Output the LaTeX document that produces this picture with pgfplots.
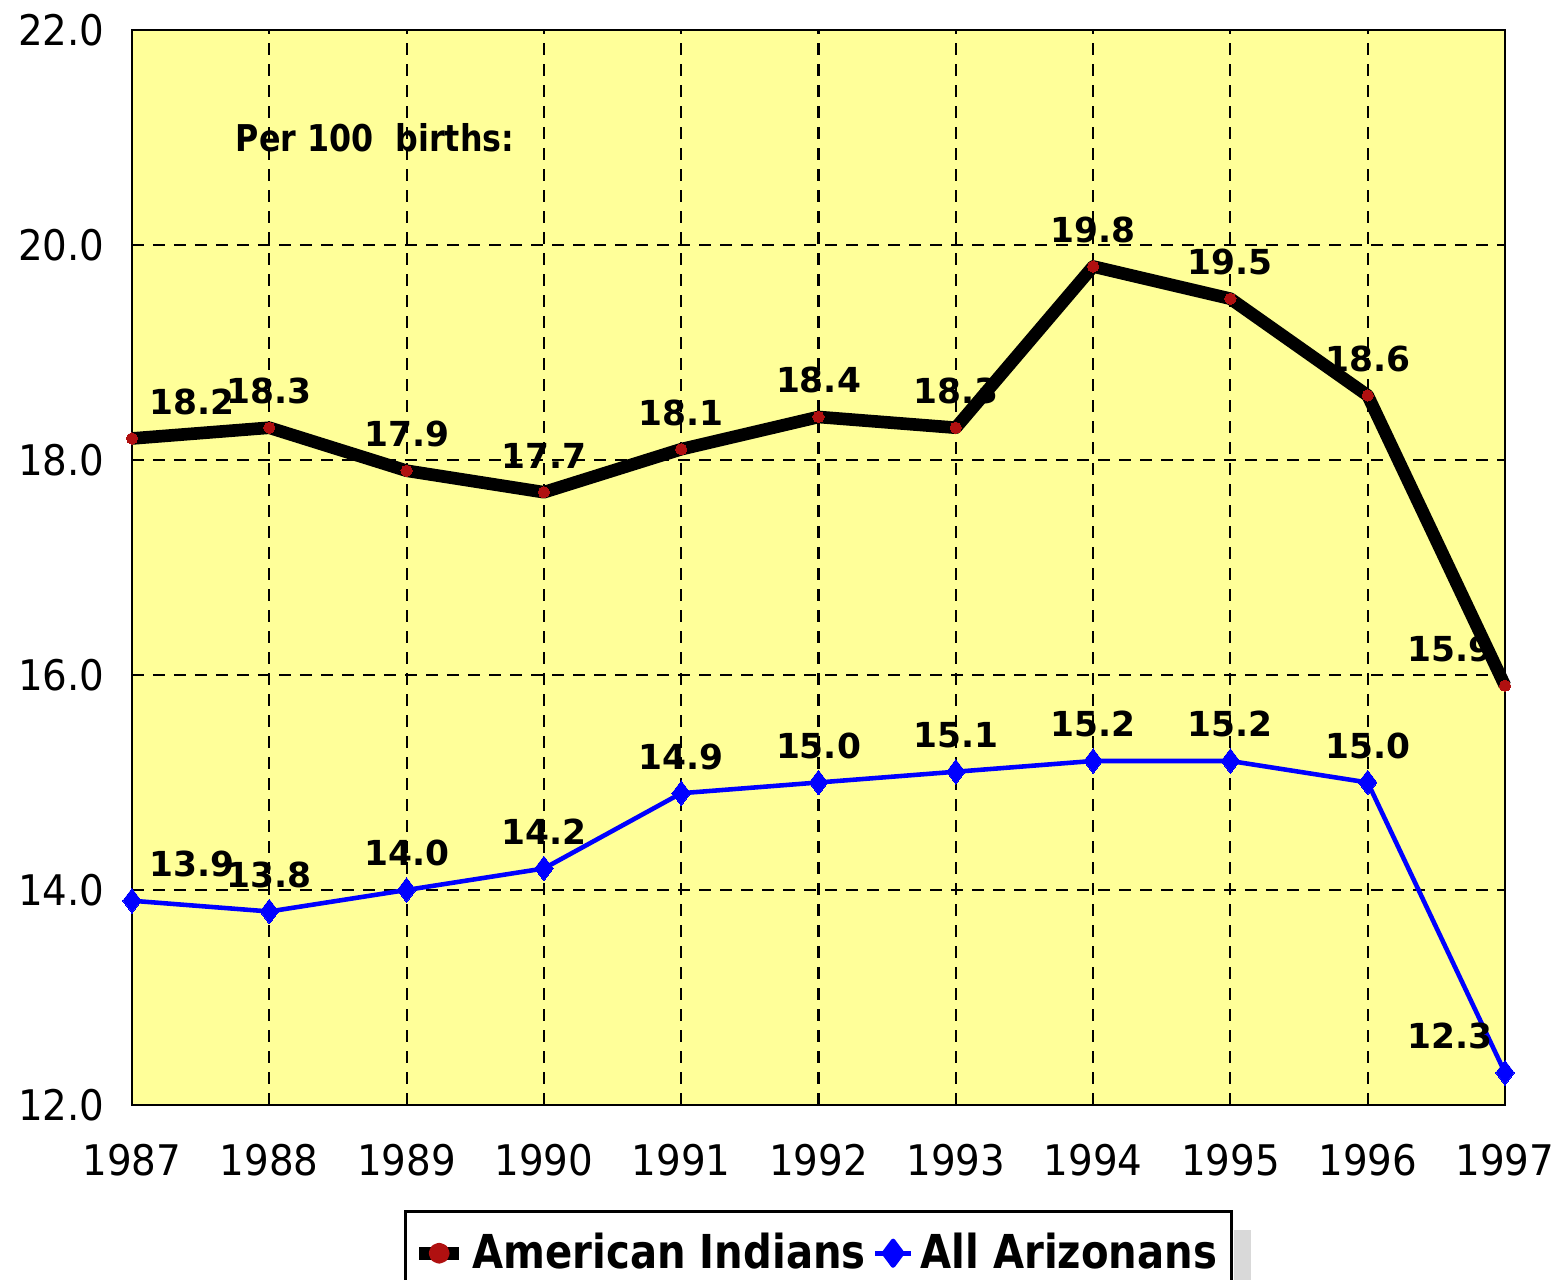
\documentclass[border=0pt]{standalone}
\usepackage{fontspec}
\setmainfont{DejaVu Sans}
\newfontfamily\tickfont[FakeStretch=0.92]{DejaVu Sans}
\newfontfamily\legfont[FakeStretch=0.86]{DejaVu Sans}
\usepackage{pgfplots}
\pgfplotsset{compat=1.18}

\definecolor{bgyellow}{HTML}{FFFF99}
\definecolor{reddot}{HTML}{B01010}

\begin{document}
\begin{tikzpicture}
\begin{axis}[
    scale only axis,
    width=13.73cm, height=10.75cm,
    xmin=1987, xmax=1997,
    ymin=12, ymax=22,
    xtick={1987,1988,...,1997},
    ytick={12,14,...,22},
    grid=major,
    major grid style={black, line width=0.6pt, dash pattern=on 1.2mm off 0.9mm},
    axis background/.style={fill=bgyellow},
    axis line style={black, line width=0.8pt},
    tick style={draw=none},
    clip=false,
    /pgf/number format/assume math mode=true,
    x tick label style={font=\tickfont\fontsize{12}{14}\selectfont,
        /pgf/number format/1000 sep={}, yshift=-2.7mm},
    y tick label style={font=\tickfont\fontsize{12}{14}\selectfont, xshift=-1.5mm,
        /pgf/number format/fixed, /pgf/number format/fixed zerofill,
        /pgf/number format/precision=1},
    legend style={at={(0.5,-0.098)}, anchor=north, legend columns=-1,
        name=mylegend,
        draw=black, line width=0.8pt, fill=white,
        font=\legfont\bfseries\fontsize{13.3}{16}\selectfont,
        inner xsep=2pt, inner ysep=4pt,
        /tikz/every even column/.append style={column sep=0pt}},
    legend cell align=left,
    nodes near coords style={black, font=\bfseries\fontsize{9.8}{12}\selectfont,
        /pgf/number format/fixed, /pgf/number format/fixed zerofill,
        /pgf/number format/precision=1},
]

% value labels, drawn first so the lines pass over them
\addplot[forget plot, draw=none, mark=none, nodes near coords, point meta=y,
    every node near coord/.append style={anchor=south, inner sep=0pt, yshift=6.5pt}]
    coordinates {(1988,18.3) (1989,17.9) (1990,17.7) (1991,18.1) (1992,18.4)
                 (1993,18.3) (1994,19.8) (1995,19.5) (1996,18.6)};
\addplot[forget plot, draw=none, mark=none, nodes near coords, point meta=y,
    every node near coord/.append style={anchor=south, inner sep=0pt, yshift=6.5pt}]
    coordinates {(1988,13.8) (1989,14.0) (1990,14.2) (1991,14.9) (1992,15.0)
                 (1993,15.1) (1994,15.2) (1995,15.2) (1996,15.0)};
\addplot[forget plot, draw=none, mark=none, nodes near coords, point meta=y,
    every node near coord/.append style={anchor=south, inner sep=0pt, yshift=6.5pt, xshift=6mm}]
    coordinates {(1987,18.2) (1987,13.9)};
\addplot[forget plot, draw=none, mark=none, nodes near coords, point meta=y,
    every node near coord/.append style={anchor=south, inner sep=0pt, yshift=6.5pt, xshift=-5.5mm}]
    coordinates {(1997,15.9) (1997,12.3)};

% American Indians
\addplot[black, line width=3.6pt, line join=round, mark=*, mark size=1.6pt,
    mark options={fill=reddot, draw=reddot, line width=0pt},
    legend image code/.code={
        \draw[black, line width=3.6pt, mark=none] (0cm,0cm) -- (0.4cm,0cm);
        \fill[reddot] (0.2cm,0cm) circle (1.15pt);}]
    coordinates {(1987,18.2) (1988,18.3) (1989,17.9) (1990,17.7) (1991,18.1)
                 (1992,18.4) (1993,18.3) (1994,19.8) (1995,19.5) (1996,18.6)
                 (1997,15.9)};
\addlegendentry{American Indians}

% All Arizonans
\addplot[blue, line width=1.3pt, line join=round, mark=diamond*, mark size=3.5pt,
    mark options={fill=blue, draw=blue, line width=0pt},
    legend image code/.code={
        \draw[blue, line width=1.3pt, mark=none] (0cm,0cm) -- (0.36cm,0cm);
        \fill[blue] (0.18cm,3.5pt) -- (0.18cm+2.6pt,0cm) -- (0.18cm,-3.5pt) -- (0.18cm-2.6pt,0cm) -- cycle;}]
    coordinates {(1987,13.9) (1988,13.8) (1989,14.0) (1990,14.2) (1991,14.9)
                 (1992,15.0) (1993,15.1) (1994,15.2) (1995,15.2) (1996,15.0)
                 (1997,12.3)};
\addlegendentry{All Arizonans}

\node[font=\legfont\bfseries\fontsize{10.5}{12}\selectfont, inner sep=0pt]
    at (rel axis cs:0.177,0.900) {Per 100~~births:};
\end{axis}
\fill[gray!30] ([xshift=0.4pt,yshift=-2mm]mylegend.north east) rectangle ([xshift=1.8mm,yshift=-2mm]mylegend.south east);
\pgfresetboundingbox
\useasboundingbox (-1.32cm,-1.75cm) rectangle (14.35cm,11.05cm);
\end{tikzpicture}
\end{document}
